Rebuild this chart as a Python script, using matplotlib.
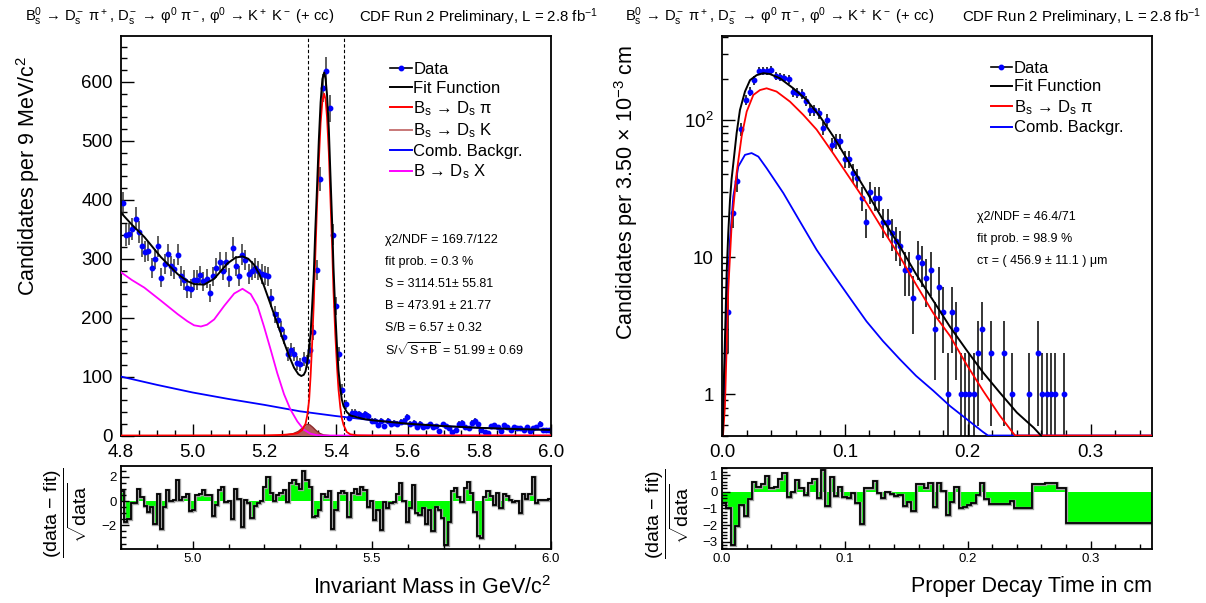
import numpy as np
import matplotlib
matplotlib.use("Agg")
import matplotlib.pyplot as plt
from matplotlib.ticker import MultipleLocator, FixedLocator, FixedFormatter, NullFormatter, FormatStrFormatter
from matplotlib.lines import Line2D

plt.rcParams['font.family'] = ['Liberation Sans', 'DejaVu Sans']
plt.rcParams['mathtext.fontset'] = 'custom'
plt.rcParams['mathtext.rm'] = 'Liberation Sans'
plt.rcParams['mathtext.it'] = 'Liberation Sans:italic'
plt.rcParams['mathtext.bf'] = 'Liberation Sans:bold'
plt.rcParams['mathtext.sf'] = 'Liberation Sans'
plt.rcParams['mathtext.default'] = 'regular'

# ---------------- invariant mass (9 MeV bins, 4.8 - 6.0 GeV) ----------------
mass_range = (4.8, 6.0)
mass_nbins = 133
mass_counts = [
    394, 340, 342, 351, 368, 346, 321, 312, 313, 284,
    300, 321, 268, 291, 308, 288, 283, 307, 271, 264,
    250, 249, 264, 264, 272, 262, 266, 242, 270, 285,
    295, 280, 294, 268, 319, 287, 271, 307, 298, 274,
    280, 285, 280, 274, 272, 270, 233, 206, 196, 181,
    168, 138, 145, 138, 123, 121, 130, 126, 145, 175,
    281, 435, 590, 618, 555, 341, 220, 138, 78, 53,
    30, 38, 39, 36, 33, 36, 33, 24, 25, 17,
    25, 16, 24, 20, 21, 20, 23, 24, 31, 20,
    21, 14, 20, 14, 16, 19, 14, 16, 8, 19,
    16, 13, 6, 10, 20, 21, 14, 13, 21, 24,
    19, 10, 6, 4, 16, 17, 14, 8, 17, 14,
    10, 14, 12, 13, 10, 14, 8, 13, 14, 20,
    10, 10, 10,
]
mass_resid = [
    0.8, -1.7, -1.5, -0.2, -0.2, 1.0, 0.3, -0.4, -0.9, -0.5,
    -1.9, 0.6, -2.3, -0.5, 0.9, 0.0, 0.1, 1.7, 0.1, 0.3,
    0.6, -0.8, -0.7, 0.5, 0.6, 0.9, 0.5, 0.5, -1.2, -0.3,
    0.9, 1.2, -0.1, 0.0, -1.5, 1.0, 0.2, -2.1, 0.1, -0.2,
    -1.4, -0.4, -0.2, 0.0, 1.2, 2.0, 0.7, 0.0, 0.5, 0.7,
    0.9, -0.1, 1.5, 1.7, 1.4, 1.0, 2.5, 1.7, 1.2, -1.3,
    -1.2, -0.7, 0.6, 0.3, 0.8, -2.3, -0.7, 0.7, 0.8, 0.7,
    -1.35, 0.7, 1.0, 0.6, 1.2, 0.9, -0.5, 0.0, -1.6, -0.75,
    -2.4, -0.1, -0.6, -0.2, -0.1, 0.6, 1.45, 0.0, -1.7, -0.6,
    1.3, -1.0, -1.15, -0.6, -1.85, -0.75, -2.5, -0.5, -0.75, -1.4,
    -3.6, -1.7, 0.85, 1.1, 0.3, -0.1, 1.1, 1.55, 0.7, -0.9,
    -2.9, -3.05, 0.3, 0.8, 0.45, -0.35, 0.7, -0.6, 0.6, 0.45,
    0.05, -0.1, 0.0, -0.97, 0.6, 0.2, 0.6, 1.95, -0.15, 0.05,
    0.1, 0.1, 0.15,
]

# fit components (GeV, candidates)
fit_x = [4.800, 4.830, 4.865, 4.911, 4.958, 4.985, 5.004, 5.032, 5.060, 5.097,
         5.120, 5.139, 5.155, 5.171, 5.185, 5.199, 5.213, 5.227, 5.241, 5.255,
         5.269, 5.283, 5.295, 5.303, 5.310, 5.315, 5.320, 5.325, 5.329, 5.333,
         5.338, 5.342, 5.347, 5.352, 5.357, 5.362, 5.367, 5.371, 5.375, 5.380,
         5.384, 5.389, 5.393, 5.398, 5.403, 5.407, 5.412, 5.416, 5.421, 5.430,
         5.440, 5.477, 5.500, 5.600, 5.700, 5.800, 5.900, 6.000]
fit_y = [378, 358, 337, 303, 274, 262, 257, 256, 266, 292,
         302, 304, 300, 290, 275, 254, 230, 206, 182, 158,
         135, 115, 104, 101, 103, 109, 125, 150, 172, 215,
         274, 345, 420, 500, 565, 605, 616, 605, 578, 520,
         450, 365, 285, 210, 148, 110, 80, 62, 50, 40,
         34, 28, 26, 20, 16, 13, 11, 9.5]

dspi_x = [4.800, 5.200, 5.250, 5.280, 5.293, 5.305, 5.315, 5.320, 5.325, 5.329,
          5.333, 5.338, 5.342, 5.347, 5.352, 5.357, 5.362, 5.367, 5.371, 5.375,
          5.380, 5.384, 5.389, 5.393, 5.398, 5.403, 5.407, 5.412, 5.416, 5.421,
          5.430, 5.440, 5.460, 5.500, 6.000]
dspi_y = [0, 0.3, 1, 2.5, 4, 9, 20, 35, 60, 100,
          150, 225, 300, 390, 465, 530, 568, 580, 570, 540,
          480, 410, 325, 245, 172, 115, 78, 48, 30, 18,
          6, 2, 0.3, 0, 0]

dsk_x = [5.240, 5.260, 5.280, 5.295, 5.305, 5.312, 5.320, 5.327, 5.335, 5.345, 5.355, 5.365, 5.380]
dsk_y = [0, 1, 3, 7, 12, 16, 19, 18, 14, 8, 3.5, 1, 0]

comb_x = [4.8, 4.9, 5.0, 5.1, 5.2, 5.3, 5.4, 5.5, 5.6, 5.7, 5.8, 5.9, 6.0]
comb_y = [100, 86, 73, 62, 52, 41, 33, 26, 20, 16, 13, 11, 9.5]

dsx_x = [4.800, 4.830, 4.865, 4.911, 4.958, 4.985, 5.004, 5.023, 5.040, 5.060,
         5.088, 5.116, 5.139, 5.162, 5.181, 5.199, 5.218, 5.236, 5.255, 5.273,
         5.292, 5.310, 5.329, 5.347, 5.370, 6.000]
dsx_y = [277, 264, 251, 229, 206, 194, 187, 185, 188, 197,
         220, 241, 249, 240, 220, 185, 145, 106, 70, 44,
         24, 10, 3, 0.5, 0, 0]

signal_window = [5.322, 5.422]

# ---------------- proper decay time (35 um bins, 0 - 0.35 cm) ----------------
ct_range = (0.0, 0.35)
ct_nbins = 100
ct_counts = [
    0, 4, 21, 36, 86, 140, 161, 195, 228, 228,
    228, 231, 210, 206, 202, 198, 159, 158, 155, 137,
    118, 118, 112, 87, 100, 66, 70, 70, 52, 52,
    41, 38, 27, 18, 30, 27, 27, 18, 18, 15,
    13, 12, 8, 8, 5, 10, 9, 7, 8, 3,
    6, 4, 1, 4, 3, 1, 1, 1, 1, 2,
    3, 0, 2, 0, 0, 2, 0, 1, 0, 0,
    0, 1, 0, 2, 1, 1, 1, 1, 0, 1,
]
ct_resid_edges = [round(0.0035 * k, 4) for k in range(57)] + [
    0.1995, 0.203, 0.2065, 0.21, 0.2135, 0.217, 0.2345, 0.238, 0.252, 0.2625, 0.273, 0.28, 0.35]
ct_resid = [
    -0.7, -1.0, -3.2, -2.05, -0.8, -1.45, -0.45, 0.6, 0.3, 0.45,
    0.95, 0.2, 0.3, 0.75, 1.1, -0.3, 0.0, 0.7, 0.2, -0.2,
    0.55, 0.75, -0.35, 1.3, -0.85, 0.9, -0.25, 0.3, -0.3, -0.35,
    -0.1, -0.7, -1.95, 0.25, 0.25, 0.65, -0.1, -0.4, 0.0, -0.15,
    -0.25, -0.2, -0.85, -0.6, -1.15, 0.45, 0.45, 0.2, 0.55, -0.9,
    0.5, 0.05, -1.4, -0.6, 0.3, -0.97,
    -0.9, -0.8, -0.7, -0.2, 0.55, -0.45, -0.75, -0.55, -1.0, 0.45, 0.5, 0.2, -1.9,
]

ctfit_x = [0.0006, 0.0011, 0.0024, 0.0038, 0.0051, 0.0065, 0.0078, 0.0092, 0.0119, 0.0146,
           0.0187, 0.0228, 0.0282, 0.0336, 0.0390, 0.0472, 0.0580, 0.0688, 0.0797, 0.0905,
           0.1040, 0.1176, 0.1310, 0.1447, 0.1580, 0.1720, 0.1856, 0.1990, 0.2125, 0.2260,
           0.2400, 0.2537, 0.2596]
ctfit_y = [0.5, 0.9, 2.5, 7.7, 15, 26, 37, 48, 80, 118,
           161, 195, 212, 219, 216, 201, 170, 140, 106, 76,
           48, 30, 18.7, 12, 7.5, 4.8, 3.1, 2.1, 1.44, 1.03,
           0.735, 0.57, 0.5]

ctsig_x = [0.0008, 0.0024, 0.0051, 0.0078, 0.0119, 0.0160, 0.0201, 0.0255, 0.0309, 0.0363,
           0.0444, 0.0553, 0.0661, 0.0770, 0.0905, 0.1040, 0.1176, 0.1310, 0.1447, 0.1580,
           0.1720, 0.1856, 0.1990, 0.2125, 0.2260, 0.2385, 0.3500]
ctsig_y = [0.5, 0.82, 5.8, 16.8, 41, 76, 115, 152, 165, 170,
           161, 136, 109, 85, 57, 37.7, 24.8, 15.8, 10.1, 6.3,
           3.9, 2.66, 1.65, 1.06, 0.70, 0.5, 0.5]

ctbkg_x = [0.0005, 0.0038, 0.0065, 0.0092, 0.0133, 0.0187, 0.0241, 0.0296, 0.0363, 0.0499,
           0.0634, 0.0770, 0.0905, 0.1040, 0.1176, 0.1310, 0.1447, 0.1580, 0.1720, 0.1856,
           0.1990, 0.2125, 0.2165, 0.3500]
ctbkg_y = [0.5, 4.2, 13.4, 27.7, 45.8, 55.6, 57.3, 54, 44.5, 29.3,
           18.2, 11.3, 7.5, 5.05, 3.4, 2.44, 1.8, 1.36, 1.06, 0.82,
           0.66, 0.53, 0.5, 0.5]

# ---------------- figure ----------------
W, H = 1206, 603
fig = plt.figure(figsize=(W / 100, H / 100), dpi=100)

def box(x0, y0, x1, y1):
    return [x0 / W, 1 - y1 / H, (x1 - x0) / W, (y1 - y0) / H]

axL = fig.add_axes(box(121, 36, 551, 435.5))
axLr = fig.add_axes(box(121, 466, 551, 549))
axR = fig.add_axes(box(722, 36, 1152, 435.5))
axRr = fig.add_axes(box(722, 468, 1152, 549))

GREEN = '#00ff00'
MAIN_TICK = 13.5
RES_TICK = 9.5
STAT_FS = 9.0
STAT_STEP = 0.055
RES_LABEL = r'$\dfrac{\mathrm{(data\ {-}\ fit)}}{\sqrt{\mathrm{data}}}$'

for ax in (axL, axLr, axR, axRr):
    for sp in ax.spines.values():
        sp.set_linewidth(1.3)
    ax.tick_params(which='both', direction='in', top=False, right=False, width=1.0)

# ---- mass spectrum ----
m_edges = np.linspace(mass_range[0], mass_range[1], mass_nbins + 1)
m_cent = 0.5 * (m_edges[:-1] + m_edges[1:])
m_cnt = np.array(mass_counts, dtype=float)
axL.errorbar(m_cent, m_cnt, yerr=np.sqrt(m_cnt), fmt='o', ms=3.2, mfc='#0000ff', mec='#0000ff',
             ecolor='#333333', elinewidth=1.1, capsize=0, zorder=2)
axL.fill_between(dsk_x, 0, dsk_y, color='#b45a5a', lw=0, zorder=3)
axL.plot(dsk_x, dsk_y, color='#8b2a2a', lw=1.0, zorder=3)
axL.plot(comb_x, comb_y, color='#0000ff', lw=1.3, zorder=4)
axL.plot(dsx_x, dsx_y, color='#ff00ff', lw=1.3, zorder=4)
axL.plot(dspi_x, dspi_y, color='#ff0000', lw=1.3, zorder=5)
axL.plot(fit_x, fit_y, color='black', lw=1.4, zorder=6)
for xw in signal_window:
    axL.axvline(xw, color='black', lw=0.8, ls=(0, (3, 2)), zorder=1)

axL.set_xlim(*mass_range)
axL.set_ylim(0, 678)
axL.xaxis.set_major_locator(MultipleLocator(0.2))
axL.xaxis.set_minor_locator(MultipleLocator(0.05))
axL.xaxis.set_major_formatter(FormatStrFormatter('%.1f'))
axL.yaxis.set_major_locator(MultipleLocator(100))
axL.yaxis.set_minor_locator(MultipleLocator(20))
axL.tick_params(which='major', length=9, labelsize=MAIN_TICK, pad=6)
axL.tick_params(which='minor', length=4.5)
axL.set_ylabel(r'Candidates per 9 MeV/c$^2$', fontsize=15.5)
axL.yaxis.set_label_coords(-0.184, 0.65)

leg_handles_L = [
    Line2D([], [], color='black', lw=1.2, marker='o', ms=3.2, mfc='#0000ff', mec='#0000ff'),
    Line2D([], [], color='black', lw=1.4),
    Line2D([], [], color='#ff0000', lw=1.4),
    Line2D([], [], color='#c87878', lw=1.4),
    Line2D([], [], color='#0000ff', lw=1.4),
    Line2D([], [], color='#ff00ff', lw=1.4),
]
leg_labels_L = ['Data', 'Fit Function', r'B$_s$ → D$_s$ π', r'B$_s$ → D$_s$ K',
                'Comb. Backgr.', r'B → D$_s$ X']
leg_kw = dict(loc='upper left', frameon=False, fontsize=12, handlelength=1.28,
              handletextpad=0.1, labelspacing=0.22, borderpad=0, borderaxespad=0)
axL.legend(leg_handles_L, leg_labels_L, bbox_to_anchor=(0.626, 0.935), **leg_kw)

stats_L = [r'χ2/NDF = 169.7/122', 'fit prob. = 0.3 %', 'S = 3114.51± 55.81',
           'B = 473.91 ± 21.77', 'S/B = 6.57 ± 0.32', r'S/$\sqrt{S+B}$ = 51.99 ± 0.69']
for k, s in enumerate(stats_L):
    axL.text(0.614, 0.49 - k * STAT_STEP, s, transform=axL.transAxes, fontsize=STAT_FS, va='center', ha='left')

# ---- mass residuals ----
mr = np.array(mass_resid)
axLr.stairs(mr, m_edges, baseline=0, fill=True, color=GREEN, lw=0)
axLr.stairs(mr, m_edges, baseline=None, color='#a0a0a0', lw=2.4)
axLr.stairs(mr, m_edges, baseline=None, color='black', lw=1.3)
axLr.set_xlim(*mass_range)
axLr.set_ylim(-3.95, 2.89)
axLr.xaxis.set_major_locator(MultipleLocator(0.5))
axLr.xaxis.set_minor_locator(MultipleLocator(0.1))
axLr.xaxis.set_major_formatter(FormatStrFormatter('%.1f'))
axLr.yaxis.set_major_locator(MultipleLocator(2))
axLr.yaxis.set_minor_locator(MultipleLocator(0.5))
axLr.tick_params(which='major', length=6, labelsize=RES_TICK, pad=3)
axLr.tick_params(which='minor', length=3.5)
axLr.set_ylabel(RES_LABEL, fontsize=14)
axLr.yaxis.set_label_coords(-0.075, 0.44)
axLr.set_xlabel(r'Invariant Mass in GeV/c$^2$', fontsize=15.5, loc='right')
axLr.xaxis.set_label_coords(1.0, -0.33)

# ---- decay time ----
t_edges = np.linspace(ct_range[0], ct_range[1], ct_nbins + 1)
t_cent = 0.5 * (t_edges[:-1] + t_edges[1:])[:len(ct_counts)]
t_cnt = np.array(ct_counts, dtype=float)
nz = t_cnt > 0
axR.set_yscale('log', nonpositive='clip')
axR.errorbar(t_cent[nz], t_cnt[nz], yerr=np.sqrt(t_cnt[nz]), fmt='o', ms=3.2, mfc='#0000ff',
             mec='#0000ff', ecolor='black', elinewidth=1.1, capsize=0, zorder=2)
axR.plot(ctbkg_x, ctbkg_y, color='#0000ff', lw=1.3, zorder=4)
axR.plot(ctsig_x, ctsig_y, color='#ff0000', lw=1.3, zorder=5)
axR.plot(ctfit_x, ctfit_y, color='black', lw=1.4, zorder=6)
axR.set_xlim(*ct_range)
axR.set_ylim(0.5, 409)
axR.xaxis.set_major_locator(MultipleLocator(0.1))
axR.xaxis.set_minor_locator(MultipleLocator(0.02))
axR.xaxis.set_major_formatter(FormatStrFormatter('%.1f'))
axR.yaxis.set_major_locator(FixedLocator([1, 10, 100]))
axR.yaxis.set_major_formatter(FixedFormatter(['1', '10', r'10$^2$']))
axR.yaxis.set_minor_locator(FixedLocator([m * 10.0 ** e for e in (-1, 0, 1, 2) for m in range(2, 10)]))
axR.yaxis.set_minor_formatter(NullFormatter())
axR.tick_params(which='major', length=9, labelsize=MAIN_TICK, pad=6)
axR.tick_params(which='minor', length=4.5)
axR.set_ylabel(r'Candidates per 3.50 × 10$^{-3}$ cm', fontsize=15.5)
axR.yaxis.set_label_coords(-0.19, 0.608)

leg_handles_R = leg_handles_L[:3] + [leg_handles_L[4]]
leg_labels_R = ['Data', 'Fit Function', r'B$_s$ → D$_s$ π', 'Comb. Backgr.']
axR.legend(leg_handles_R, leg_labels_R, bbox_to_anchor=(0.625, 0.938), **leg_kw)

stats_R = [r'χ2/NDF = 46.4/71', 'fit prob. = 98.9 %', 'cτ = ( 456.9 ± 11.1 ) μm']
for k, s in enumerate(stats_R):
    axR.text(0.593, 0.546 - k * STAT_STEP, s, transform=axR.transAxes, fontsize=STAT_FS, va='center', ha='left')

# ---- decay time residuals ----
tr = np.array(ct_resid)
axRr.stairs(tr, ct_resid_edges, baseline=0, fill=True, color=GREEN, lw=0)
axRr.stairs(tr, ct_resid_edges, baseline=None, color='#a0a0a0', lw=2.4)
axRr.stairs(tr, ct_resid_edges, baseline=None, color='black', lw=1.3)
axRr.set_xlim(*ct_range)
axRr.set_ylim(-3.43, 1.42)
axRr.xaxis.set_major_locator(MultipleLocator(0.1))
axRr.xaxis.set_minor_locator(MultipleLocator(0.02))
axRr.xaxis.set_major_formatter(FormatStrFormatter('%.1f'))
axRr.yaxis.set_major_locator(MultipleLocator(1))
axRr.yaxis.set_minor_locator(MultipleLocator(0.2))
axRr.tick_params(which='major', length=6, labelsize=RES_TICK, pad=3)
axRr.tick_params(which='minor', length=3.5)
axRr.set_ylabel(RES_LABEL, fontsize=14)
axRr.yaxis.set_label_coords(-0.072, 0.44)
axRr.set_xlabel('Proper Decay Time in cm', fontsize=15.5, loc='right')
axRr.xaxis.set_label_coords(1.0, -0.33)

# ---- headers ----
decay = r'B$_s^0$ → D$_s^-$ π$^+$, D$_s^-$ → φ$^0$ π$^-$, φ$^0$ → K$^+$ K$^-$ (+ cc)'
lumi = r'CDF Run 2 Preliminary, L = 2.8 fb$^{-1}$'
fig.text(25 / W, 1 - 17 / H, decay, fontsize=10.6, va='center', ha='left')
fig.text(598 / W, 1 - 17 / H, lumi, fontsize=10.8, va='center', ha='right')
fig.text(625 / W, 1 - 17 / H, decay, fontsize=10.6, va='center', ha='left')
fig.text(1201 / W, 1 - 17 / H, lumi, fontsize=10.8, va='center', ha='right')

fig.savefig('out.png', dpi=100)
